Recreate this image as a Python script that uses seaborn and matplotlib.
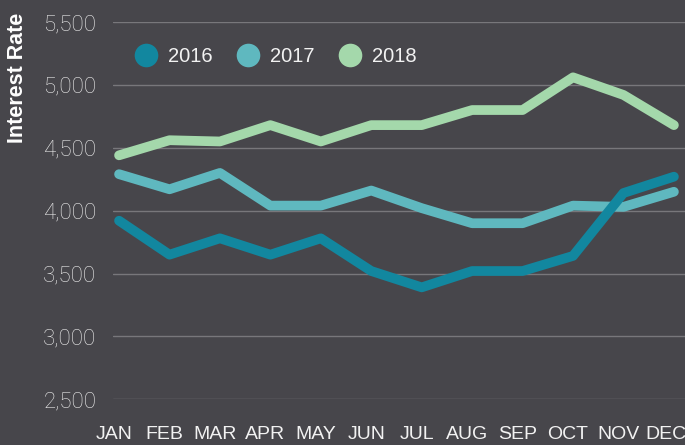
import matplotlib
matplotlib.use("Agg")
import matplotlib.pyplot as plt
import matplotlib.transforms as mtransforms
from matplotlib.lines import Line2D
from matplotlib.ticker import FuncFormatter
import numpy as np
import pandas as pd
import seaborn as sns

# Monthly series
months = ["JAN", "FEB", "MAR", "APR", "MAY", "JUN",
          "JUL", "AUG", "SEP", "OCT", "NOV", "DEC"]
rate_2016 = [3920, 3650, 3780, 3650, 3780, 3520, 3390, 3520, 3520, 3640, 4140, 4270]
rate_2017 = [4290, 4170, 4300, 4040, 4040, 4160, 4020, 3900, 3900, 4040, 4030, 4150]
rate_2018 = [4440, 4560, 4550, 4680, 4550, 4680, 4680, 4800, 4800, 5060, 4920, 4680]
years = ["2016", "2017", "2018"]
y_ticks = [2500, 3000, 3500, 4000, 4500, 5000, 5500]

colors = {"2016": "#12879f", "2017": "#5fb8bf", "2018": "#a4d8ab"}
bg = "#47464b"
grid_color = "#78777b"

frames = []
for yr, vals in zip(years, [rate_2016, rate_2017, rate_2018]):
    frames.append(pd.DataFrame({"month": np.arange(len(months)),
                                "rate": vals, "year": yr}))
df = pd.concat(frames, ignore_index=True)

sns.set_theme(style="dark")
plt.rcParams["font.family"] = ["Liberation Sans", "DejaVu Sans"]

W, H = 685, 445
fig = plt.figure(figsize=(W / 100, H / 100), dpi=100, facecolor=bg)
ax = fig.add_axes([113 / W, (H - 399.3) / H, (W - 113) / W, (399.3 - 22) / H])
ax.set_facecolor(bg)

sns.lineplot(data=df, x="month", y="rate", hue="year",
             hue_order=["2018", "2017", "2016"], palette=colors,
             linewidth=7, legend=False, ax=ax, sort=False)
zorders = {"2018": 3, "2017": 4, "2016": 5}
for line, yr in zip(ax.get_lines(), ["2018", "2017", "2016"]):
    line.set_solid_capstyle("round")
    line.set_solid_joinstyle("round")
    line.set_zorder(zorders[yr])
    line.set_clip_on(False)

ax.set_xlim(-0.12, 11.22)
ax.set_ylim(2500, 5500)
ax.set_yticks(y_ticks)
ax.yaxis.set_major_formatter(FuncFormatter(lambda v, p: f"{int(v):,}"))
ax.set_xticks(np.arange(len(months)))
ax.set_xticklabels(months)

ax.grid(False)
ax.yaxis.grid(True, color=grid_color, linewidth=1.0)
ax.set_axisbelow(True)
for s in ax.spines.values():
    s.set_visible(False)

ax.tick_params(axis="y", length=0, pad=12, labelsize=16, labelcolor="#ececec")
ax.tick_params(axis="x", length=0, pad=19, labelsize=14, labelcolor="#f2f2f2")
for i, lbl in enumerate(ax.get_xticklabels()):
    dx = -8 if i == len(months) - 1 else -5
    shift = mtransforms.ScaledTranslation(dx / 100, 0, fig.dpi_scale_trans)
    lbl.set_transform(lbl.get_transform() + shift)
for lbl in ax.get_yticklabels():
    lbl.set_fontfamily(["Roboto", "Liberation Sans"])
    lbl.set_fontweight("light")

ax.set_xlabel("")
ax.set_ylabel("")
fig.text(18 / W, 1 - 78 / H, "Interest Rate", rotation=90, ha="center",
         va="center", fontsize=15.5, fontweight="bold", color="#ffffff")

handles = [Line2D([], [], linestyle="none", marker="o", markersize=17,
                  markerfacecolor=colors[yr], markeredgewidth=0) for yr in years]
fig.legend(handles, years, loc="upper left",
           bbox_to_anchor=(134 / W, 1 - 47 / H), bbox_transform=fig.transFigure,
           ncol=3, frameon=False, fontsize=14.5, labelcolor="#f2f2f2",
           handlelength=1.2, handletextpad=0.5, columnspacing=1.15,
           borderpad=0, borderaxespad=0)

fig.savefig("out.png", dpi=100, facecolor=bg)
